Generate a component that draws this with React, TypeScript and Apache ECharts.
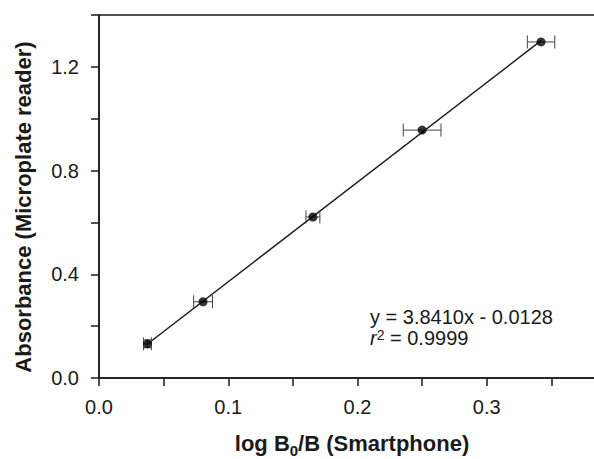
import React, { useEffect, useRef } from "react";
import * as echarts from "echarts";

// Calibration points: smartphone signal (log B0/B) vs. microplate absorbance
const logRatio = [0.0375, 0.0805, 0.1655, 0.25, 0.342];
const absorbance = [0.132, 0.294, 0.621, 0.956, 1.296];
const logRatioErr = [0.003, 0.0073, 0.0054, 0.0146, 0.0106];
const absorbanceErr = [0.015, 0, 0, 0, 0];

// Linear fit stated in the annotation
const fitSlope = 3.841;
const fitIntercept = -0.0128;

const xTickLabels = ["0.0", "0.1", "0.2", "0.3"];
const yTickLabels = ["0.0", "0.4", "0.8", "1.2"];

const FONT = "'Liberation Sans', Arial, Helvetica, sans-serif";
const INK = "#1a1a1a";

const pickLabel = (list: string[]) => (v: number) => {
  const s = v.toFixed(1);
  return list.includes(s) && Math.abs(v - parseFloat(s)) < 1e-6 ? s : "";
};

export default function App() {
  const ref = useRef<HTMLDivElement>(null);

  useEffect(() => {
    if (!ref.current) return;
    const chart = echarts.init(ref.current, undefined, { renderer: "svg" });

    const xMin = logRatio[0];
    const xMax = logRatio[logRatio.length - 1];
    const fitLine = [
      [xMin, fitSlope * xMin + fitIntercept],
      [xMax, fitSlope * xMax + fitIntercept],
    ];
    const points = logRatio.map((x, i) => [x, absorbance[i]]);
    const errData = logRatio.map((x, i) => [x, absorbance[i], logRatioErr[i], absorbanceErr[i]]);

    const axisLine = { show: true, lineStyle: { color: INK, width: 1.5 } };
    const axisTick = { show: true, length: 8, lineStyle: { color: INK, width: 1.5 } };

    chart.setOption({
      animation: false,
      backgroundColor: "#ffffff",
      grid: {
        left: 99,
        top: 15,
        width: 517,
        height: 363,
        show: true,
        borderColor: INK,
        borderWidth: 1.5,
        backgroundColor: "transparent",
      },
      xAxis: {
        type: "value",
        min: 0,
        max: 0.4,
        interval: 0.05,
        axisLine,
        axisTick,
        splitLine: { show: false },
        axisLabel: {
          margin: 19,
          fontSize: 20,
          color: INK,
          fontFamily: FONT,
          formatter: pickLabel(xTickLabels),
        },
      },
      yAxis: {
        type: "value",
        min: 0,
        max: 1.4,
        interval: 0.2,
        axisLine,
        axisTick,
        splitLine: { show: false },
        axisLabel: {
          margin: 20,
          fontSize: 20,
          color: INK,
          fontFamily: FONT,
          formatter: pickLabel(yTickLabels),
        },
      },
      series: [
        {
          type: "line",
          data: fitLine,
          showSymbol: false,
          lineStyle: { color: INK, width: 1.5 },
          z: 2,
        },
        {
          type: "custom",
          data: errData,
          encode: { x: 0, y: 1 },
          clip: false,
          z: 3,
          renderItem: (_params: any, api: any) => {
            const x = api.value(0);
            const y = api.value(1);
            const ex = api.value(2);
            const ey = api.value(3);
            const c = api.coord([x, y]);
            const l = api.coord([x - ex, y]);
            const r = api.coord([x + ex, y]);
            const style = { stroke: "#444", lineWidth: 1, fill: "none" };
            const capH = 6.5;
            const children: any[] = [
              { type: "line", shape: { x1: l[0], y1: c[1], x2: r[0], y2: c[1] }, style },
              { type: "line", shape: { x1: l[0], y1: c[1] - capH, x2: l[0], y2: c[1] + capH }, style },
              { type: "line", shape: { x1: r[0], y1: c[1] - capH, x2: r[0], y2: c[1] + capH }, style },
            ];
            if (ey > 0) {
              const t = api.coord([x, y + ey]);
              const b = api.coord([x, y - ey]);
              const capW = 4;
              children.push(
                { type: "line", shape: { x1: c[0], y1: t[1], x2: c[0], y2: b[1] }, style },
                { type: "line", shape: { x1: c[0] - capW, y1: t[1], x2: c[0] + capW, y2: t[1] }, style },
                { type: "line", shape: { x1: c[0] - capW, y1: b[1], x2: c[0] + capW, y2: b[1] }, style }
              );
            }
            return { type: "group", children };
          },
        },
        {
          type: "scatter",
          data: points,
          symbol: "circle",
          symbolSize: 9,
          itemStyle: { color: "#000" },
          z: 4,
        },
      ],
      graphic: [
        {
          type: "text",
          x: 23,
          y: 207,
          rotation: Math.PI / 2,
          style: {
            text: "Absorbance (Microplate reader)",
            fontFamily: FONT,
            fontSize: 22,
            fontWeight: "bold",
            fill: INK,
            textAlign: "center",
            textVerticalAlign: "middle",
          },
        },
        {
          type: "text",
          x: 352,
          y: 445,
          style: {
            text: "{m|log B}{sub|0}{m|/B (Smartphone)}",
            fontFamily: FONT,
            fontSize: 22,
            fontWeight: "bold",
            fill: INK,
            textAlign: "center",
            textVerticalAlign: "middle",
            rich: {
              m: {
                fontFamily: FONT,
                fontSize: 22,
                fontWeight: "bold",
                fill: INK,
                verticalAlign: "top",
                lineHeight: 22,
              },
              sub: {
                fontFamily: FONT,
                fontSize: 15,
                fontWeight: "bold",
                fill: INK,
                verticalAlign: "bottom",
                lineHeight: 26,
              },
            },
          },
        },
        {
          type: "text",
          x: 370,
          y: 317,
          style: {
            text: "y = 3.8410x - 0.0128",
            fontFamily: FONT,
            fontSize: 20,
            fill: INK,
            textAlign: "left",
            textVerticalAlign: "middle",
          },
        },
        {
          type: "text",
          x: 370,
          y: 338,
          style: {
            text: "{it|r}{sup|2} = 0.9999",
            fontFamily: FONT,
            fontSize: 20,
            fill: INK,
            textAlign: "left",
            textVerticalAlign: "middle",
            rich: {
              it: { fontFamily: FONT, fontSize: 20, fontStyle: "italic", fill: INK },
              sup: { fontFamily: FONT, fontSize: 14, fill: INK, verticalAlign: "top" },
            },
          },
        },
      ],
    });

    return () => chart.dispose();
  }, []);

  return (
    <div
      style={{
        position: "fixed",
        left: 0,
        top: 0,
        width: 594,
        height: 459,
        overflow: "hidden",
        background: "#fff",
      }}
    >
      <div ref={ref} style={{ width: 640, height: 459 }} />
    </div>
  );
}
